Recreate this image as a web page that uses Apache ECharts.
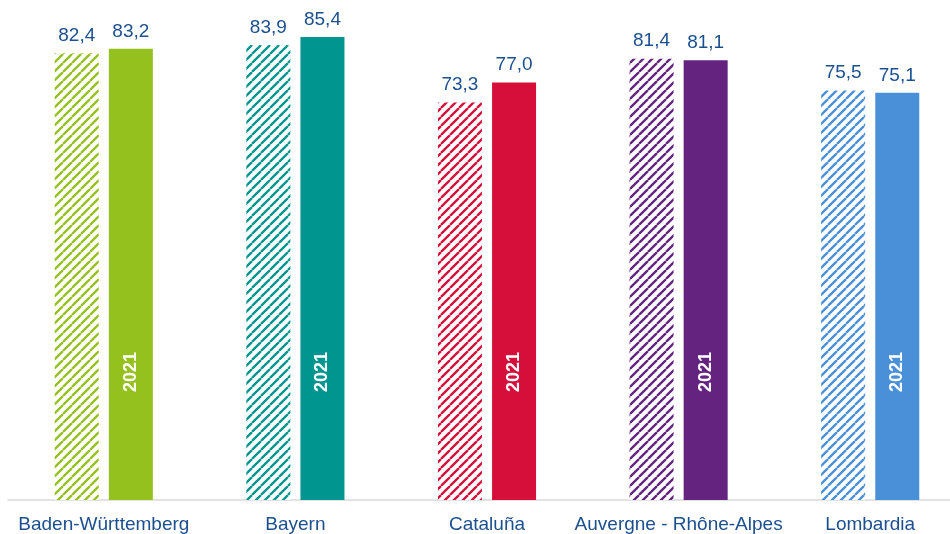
<!DOCTYPE html>
<html>
<head>
<meta charset="utf-8">
<script src="https://cdn.jsdelivr.net/npm/echarts@6/dist/echarts.min.js"></script>
<style>
html,body{margin:0;padding:0;background:#fff;overflow:hidden;width:950px;height:534px;}
#chart{width:966px;height:534px;}
</style>
</head>
<body>
<div id="chart"></div>
<script>
const categories = ['Baden-Württemberg', 'Bayern', 'Cataluña', 'Auvergne - Rhône-Alpes', 'Lombardia'];
const previousValues = [82.4, 83.9, 73.3, 81.4, 75.5];
const values2021 = [83.2, 85.4, 77.0, 81.1, 75.1];
const barLabel = '2021';
const regionColors = ['#95C11F', '#00968F', '#D50F3A', '#63237E', '#4A90D9'];

function hatch(color) {
  const s = 9;
  const c = document.createElement('canvas');
  c.width = s; c.height = s;
  const ctx = c.getContext('2d');
  ctx.fillStyle = '#fff';
  ctx.fillRect(0, 0, s, s);
  ctx.strokeStyle = color;
  ctx.lineWidth = 2.3;
  ctx.beginPath();
  for (let k = -1; k <= 1; k++) {
    ctx.moveTo(k * s, s);
    ctx.lineTo(k * s + s, 0);
  }
  ctx.stroke();
  return { image: c, repeat: 'repeat' };
}

const FONT = 'Liberation Sans, Arial, sans-serif';
const fmt = p => p.value.toFixed(1).replace('.', ',');
const valueLabel = {
  show: true, position: 'top', distance: 8,
  color: '#1C4F8F', fontSize: 19, fontFamily: FONT,
  formatter: fmt
};

const chart = echarts.init(document.getElementById('chart'), null, { renderer: 'canvas' });
chart.setOption({
  animation: false,
  backgroundColor: '#fff',
  grid: { left: 8, right: 0, top: 12, bottom: 34, containLabel: false },
  xAxis: [{
    type: 'category',
    data: categories,
    axisLine: { show: true, lineStyle: { color: '#D9D9D9', width: 1.5 } },
    axisTick: { show: false },
    axisLabel: { interval: 0, margin: 15, color: '#1C4F8F', fontSize: 19, fontFamily: FONT }
  }, {
    type: 'category',
    data: categories,
    show: false
  }],
  yAxis: {
    type: 'value', min: 0, max: 90,
    show: false,
    splitLine: { show: false }
  },
  series: [
    {
      name: 'anterior',
      type: 'bar',
      barWidth: 44,
      barGap: '23%',
      data: previousValues.map((v, i) => ({ value: v, itemStyle: { color: hatch(regionColors[i]) } })),
      label: valueLabel
    },
    {
      name: barLabel,
      type: 'bar',
      barWidth: 44,
      barGap: '23%',
      data: values2021.map((v, i) => ({ value: v, itemStyle: { color: regionColors[i] } })),
      label: valueLabel
    },
    {
      name: 'placeholder',
      type: 'bar',
      xAxisIndex: 1,
      barWidth: 44,
      barGap: '23%',
      silent: true,
      data: previousValues.map(v => ({ value: v, itemStyle: { color: 'rgba(0,0,0,0)' } }))
    },
    {
      name: barLabel + '-label',
      type: 'bar',
      xAxisIndex: 1,
      barWidth: 44,
      barGap: '23%',
      silent: true,
      z: 5,
      data: values2021.map(v => ({ value: v, itemStyle: { color: 'rgba(0,0,0,0)' } })),
      label: {
        show: true, position: 'insideBottom', distance: 108, rotate: 90,
        align: 'left', verticalAlign: 'middle',
        color: '#fff', fontWeight: 'bold', fontSize: 18, fontFamily: FONT,
        formatter: () => barLabel
      }
    }
  ]
});
</script>
</body>
</html>
